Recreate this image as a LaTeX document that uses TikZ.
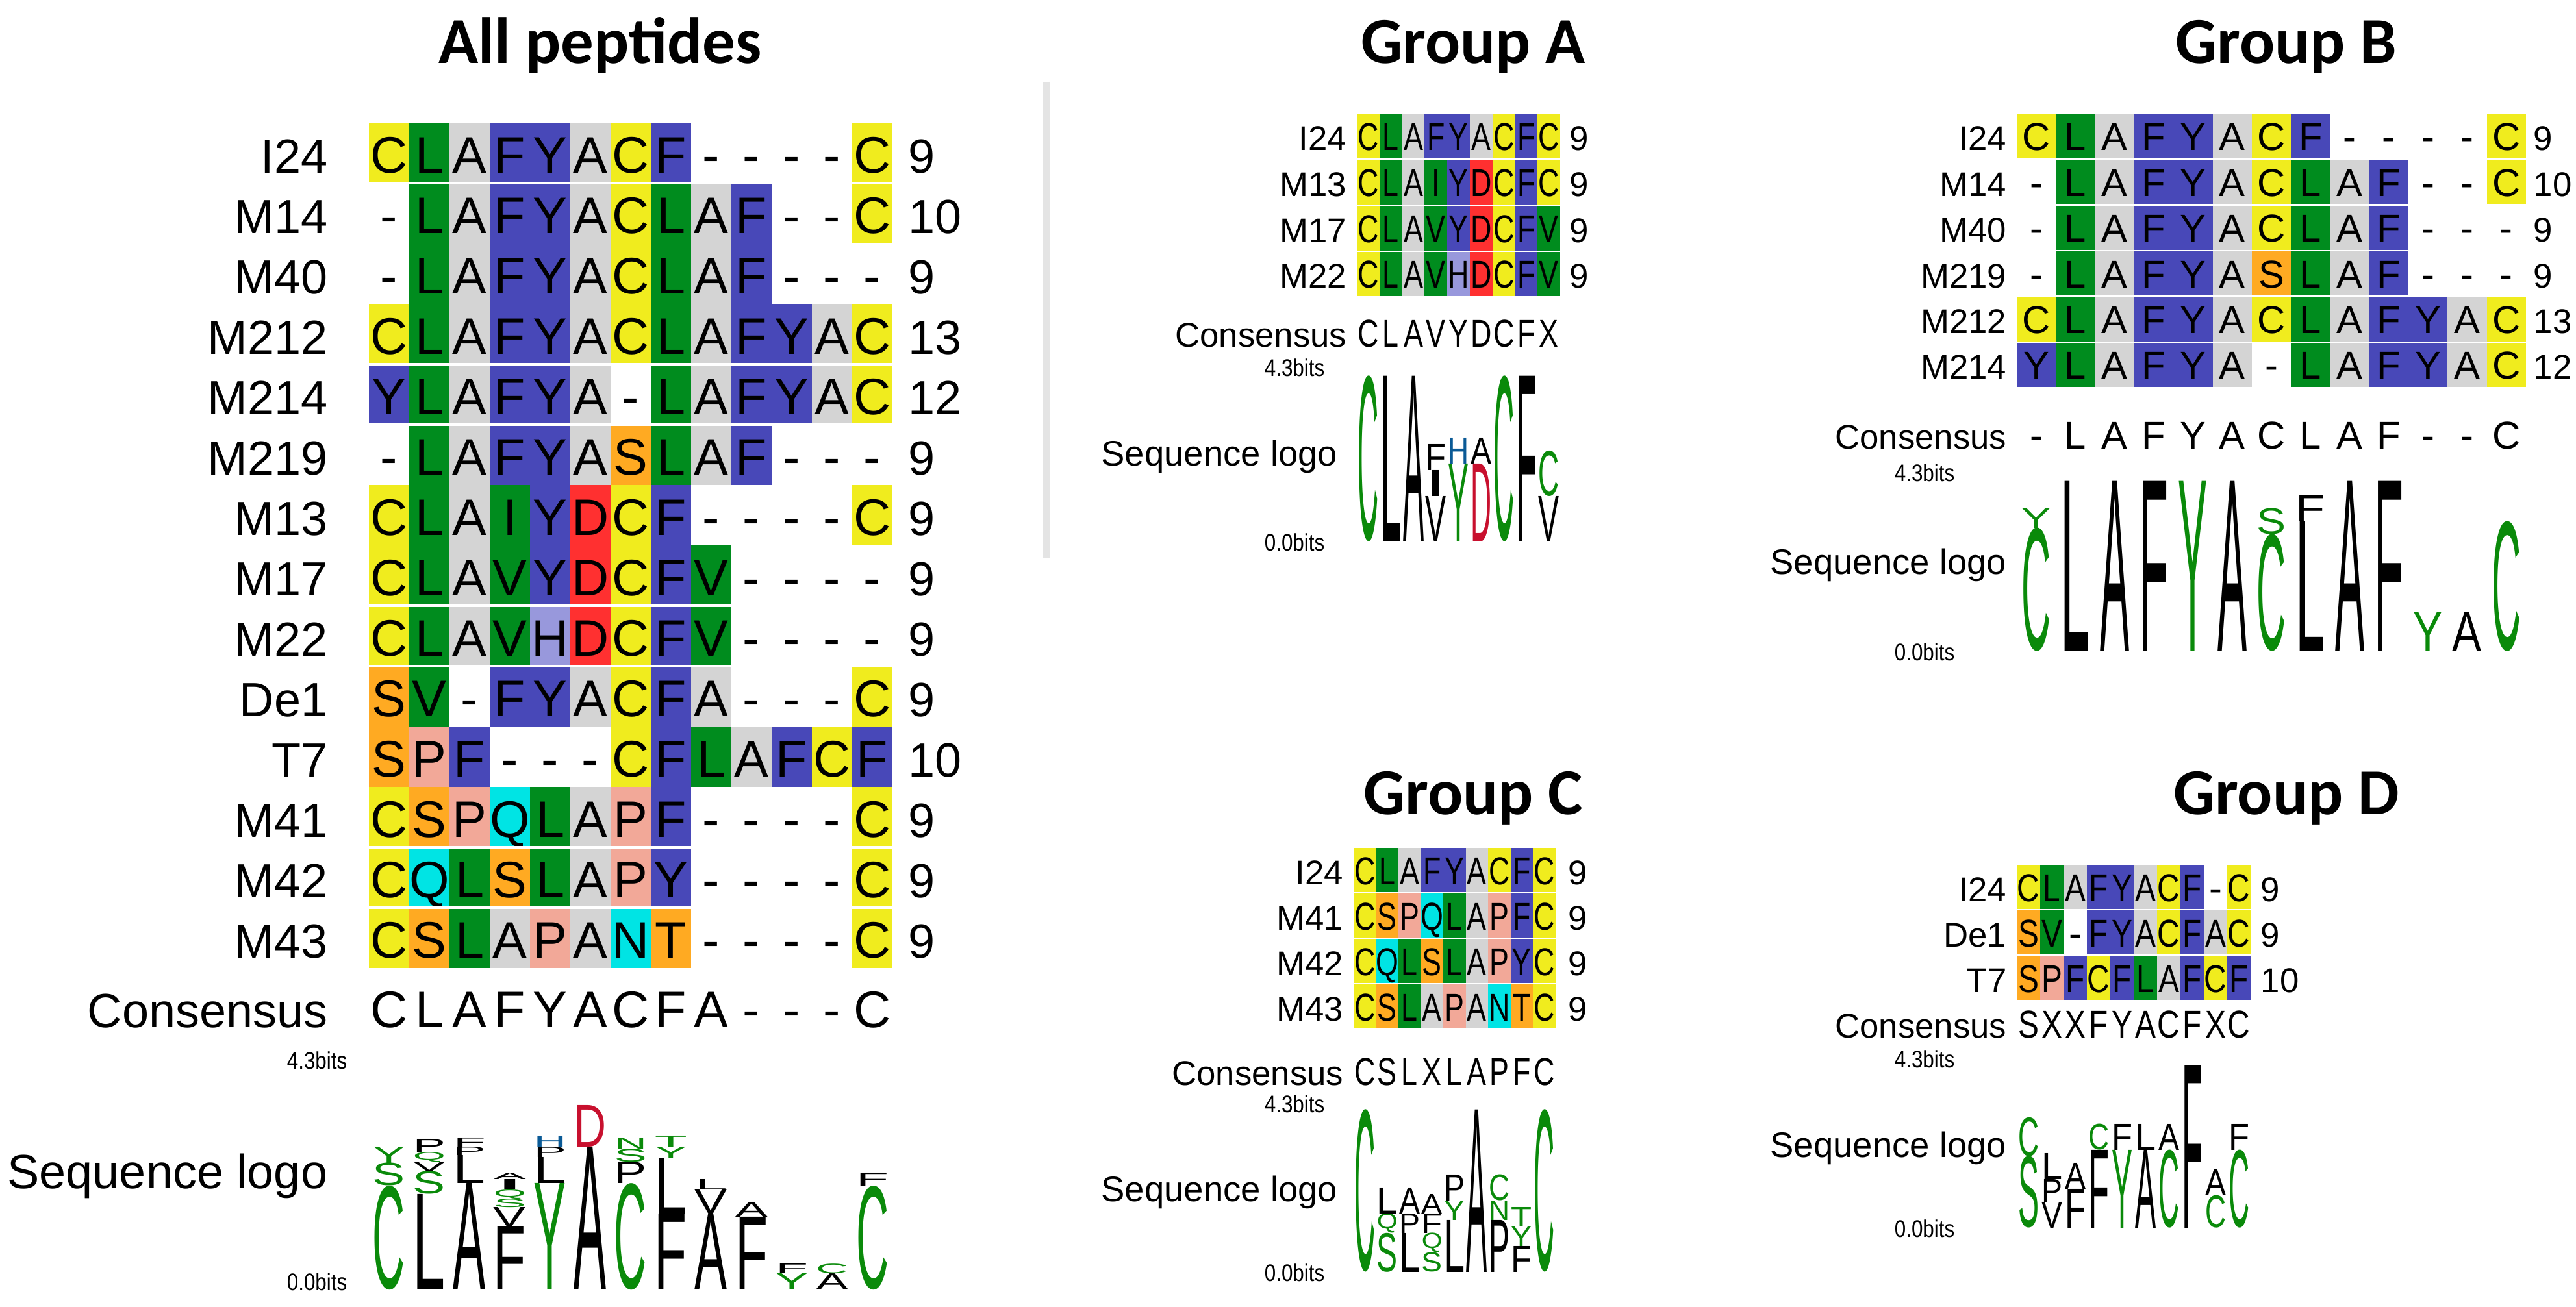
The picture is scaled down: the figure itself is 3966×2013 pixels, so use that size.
\documentclass[tikz,border=0pt]{standalone}
\usepackage{fontspec}
\usepackage{graphicx}
\setmainfont{Liberation Sans}
\newfontfamily\titlefont{Carlito}
\newdimen\pxd \pxd=0.28453pt
\definecolor{rC}{HTML}{F0EC1E}
\definecolor{rL}{HTML}{008C1E}
\definecolor{rI}{HTML}{008C1E}
\definecolor{rV}{HTML}{008C1E}
\definecolor{rA}{HTML}{D4D4D4}
\definecolor{rF}{HTML}{4848B8}
\definecolor{rY}{HTML}{4848B8}
\definecolor{rH}{HTML}{9898DC}
\definecolor{rD}{HTML}{FF3030}
\definecolor{rS}{HTML}{FFAA22}
\definecolor{rT}{HTML}{FFAA22}
\definecolor{rP}{HTML}{F2A898}
\definecolor{rQ}{HTML}{00E4E4}
\definecolor{rN}{HTML}{00E4E4}
\definecolor{lgg}{HTML}{0A8A0A}
\definecolor{lgk}{HTML}{000000}
\definecolor{lgr}{HTML}{C8102E}
\definecolor{lgb}{HTML}{0A5A96}
\definecolor{sepline}{HTML}{E4E4E4}
\def\gapchar{g}
\newcommand\setpanel[9]{\def\Px{#1}\def\Pcw{#2}\def\Prh{#3}\def\Plx{#4}\def\Pnx{#5}\def\Pcf{#6}\def\Plf{#7}\def\Pbo{#8}\def\Psx{#9}}
\newcommand\arow[4]{%
  \pgfmathsetmacro\yl{#1+\Pbo}%
  \node[anchor=base east, inner sep=0pt] at (\Plx,\yl) {\Plf #2};
  \foreach \c [count=\k from 0] in {#3} {%
    \pgfmathsetmacro\xa{\Px+\k*\Pcw}%
    \pgfmathsetmacro\xm{\xa+0.5*\Pcw}%
    \pgfmathsetmacro\xb{\xa+\Pcw}%
    \pgfmathsetmacro\ya{#1-0.5*\Prh}%
    \pgfmathsetmacro\yb{#1+0.5*\Prh}%
    \edef\cc{\c}%
    \ifx\cc\gapchar
      \node[anchor=base, inner sep=0pt] at (\xm,\yl) {\Pcf -};%
    \else
      \edef\fc{r\c}%
      \fill[fill=\fc] (\xa,\ya) rectangle (\xb,\yb);%
      \node[anchor=base, inner sep=0pt] at (\xm,\yl) {\scalebox{\Psx}[1]{\Pcf\c}};%
    \fi
  }%
  \node[anchor=base west, inner sep=0pt] at (\Pnx,\yl) {\Plf #4};%
}
\newcommand\crow[3]{%
  \pgfmathsetmacro\yl{#1+\Pbo}%
  \node[anchor=base east, inner sep=0pt] at (\Plx,\yl) {\Plf #2};
  \foreach \c [count=\k from 0] in {#3} {%
    \pgfmathsetmacro\xm{\Px+(\k+0.5)*\Pcw}%
    \edef\cc{\c}%
    \ifx\cc\gapchar\def\ct{-}\else\edef\ct{\c}\fi
    \node[anchor=base, inner sep=0pt] at (\xm,\yl) {\scalebox{\Psx}[1]{\Pcf\ct}};%
  }%
}
\newcommand\wsep[3]{\fill[white] (#2,#1-2) rectangle (#3,#1+2);}
\newcommand\logocol[3]{%
  \pgfmathsetmacro\lx{\Px+(#1+0.5)*\Pcw}%
  \xdef\curY{\Pbase}%
  \foreach \L/\H/\C in {#3} {%
    \node[inner sep=0pt, anchor=south, text=\C] at (\lx,\curY) {\resizebox*{#2\pxd}{\H\pxd}{\L}};%
    \pgfmathsetmacro\tmpY{\curY-\H}\xdef\curY{\tmpY}%
  }%
}
\newcommand\bits[3]{% x right, y center (4.3), y center (0.0)
  \node[anchor=east, inner sep=0pt] at (#1,#2) {\scalebox{0.85}[1]{\fontsize{10.5}{12}\selectfont 4.3bits}};
  \node[anchor=east, inner sep=0pt] at (#1,#3) {\scalebox{0.85}[1]{\fontsize{10.5}{12}\selectfont 0.0bits}};
}
\tikzset{ttl/.style={anchor=base, inner sep=0pt, font=\titlefont\bfseries\fontsize{28.7}{32}\selectfont}}
\begin{document}
\begin{tikzpicture}[x=0.01cm,y=-0.01cm]
\useasboundingbox (0,0) rectangle (3966,2013);
\fill[white] (0,0) rectangle (3966,2013);
% titles
\node[ttl] (tAll) at (924,98) {All peptides};
\node[ttl] (tA) at (2268,98) {Group A};
\node[ttl] (tB) at (3520,98) {Group B};
\node[ttl] (tC) at (2268,1254) {Group C};
\node[ttl] (tD) at (3520,1254) {Group D};
\draw[sepline, line width=3] (1611,126) -- (1611,860);
% ================= All peptides =================
\setpanel{568}{62}{93}{505}{1398}{\fontsize{22.5}{26}\selectfont}{\fontsize{21}{25}\selectfont}{31}{1}
\arow{235.5}{I24}{C,L,A,F,Y,A,C,F,g,g,g,g,C}{9}
\arow{328.5}{M14}{g,L,A,F,Y,A,C,L,A,F,g,g,C}{10}
\arow{421.5}{M40}{g,L,A,F,Y,A,C,L,A,F,g,g,g}{9}
\arow{514.5}{M212}{C,L,A,F,Y,A,C,L,A,F,Y,A,C}{13}
\arow{607.5}{M214}{Y,L,A,F,Y,A,g,L,A,F,Y,A,C}{12}
\arow{700.5}{M219}{g,L,A,F,Y,A,S,L,A,F,g,g,g}{9}
\arow{793.5}{M13}{C,L,A,I,Y,D,C,F,g,g,g,g,C}{9}
\arow{886.5}{M17}{C,L,A,V,Y,D,C,F,V,g,g,g,g}{9}
\arow{979.5}{M22}{C,L,A,V,H,D,C,F,V,g,g,g,g}{9}
\arow{1072.5}{De1}{S,V,g,F,Y,A,C,F,A,g,g,g,C}{9}
\arow{1165.5}{T7}{S,P,F,g,g,g,C,F,L,A,F,C,F}{10}
\arow{1258.5}{M41}{C,S,P,Q,L,A,P,F,g,g,g,g,C}{9}
\arow{1351.5}{M42}{C,Q,L,S,L,A,P,Y,g,g,g,g,C}{9}
\arow{1444.5}{M43}{C,S,L,A,P,A,N,T,g,g,g,g,C}{9}
\foreach \yy in {282,561,654,933,1026,1305,1398} {\wsep{\yy}{560}{1380}}
\crow{1551}{Consensus}{C,L,A,F,Y,A,C,F,A,g,g,g,C}
\bits{535}{1633}{1974}
\node[anchor=base east, inner sep=0pt] at (505,1830) {\fontsize{21}{25}\selectfont Sequence logo};
\def\Pbase{1987}
\logocol{0}{50}{C/160/lgg, S/35/lgg, Y/25/lgg}
\logocol{1}{50}{L/147/lgk, S/35/lgg, V/15/lgk, Q/15/lgg, P/20/lgk}
\logocol{2}{50}{A/164/lgk, L/43/lgk, P/13/lgk, F/14/lgk}
\logocol{3}{50}{F/97/lgk, V/30/lgk, S/13/lgg, Q/14/lgg, I/16/lgk, A/10/lgk}
\logocol{4}{50}{Y/164/lgg, L/40/lgk, P/16/lgk, H/17/lgb}
\logocol{5}{50}{A/220/lgk, D/64/lgr}
\logocol{6}{50}{C/164/lgg, P/33/lgk, S/20/lgg, N/17/lgg}
\logocol{7}{50}{F/117/lgk, L/85/lgk, Y/18/lgg, T/17/lgg}
\logocol{8}{50}{A/117/lgk, V/37/lgk, L/16/lgk}
\logocol{9}{50}{F/112/lgk, A/23/lgk}
\logocol{10}{50}{Y/25/lgg, F/15/lgk}
\logocol{11}{50}{A/25/lgk, C/15/lgg}
\logocol{12}{50}{C/160/lgg, F/20/lgk}
% ================= Group A =================
\setpanel{2089}{34.8}{68}{2074}{2416}{\fontsize{17}{20}\selectfont}{\fontsize{15}{18}\selectfont}{22}{0.75}
\arow{210}{I24}{C,L,A,F,Y,A,C,F,C}{9}
\arow{281}{M13}{C,L,A,I,Y,D,C,F,C}{9}
\arow{352}{M17}{C,L,A,V,Y,D,C,F,V}{9}
\arow{422}{M22}{C,L,A,V,H,D,C,F,V}{9}
\crow{513}{Consensus}{C,L,A,V,Y,D,C,F,X}
\bits{2040}{566}{835}
\node[anchor=base east, inner sep=0pt] at (2060,718) {\fontsize{15.5}{18}\selectfont Sequence logo};
\def\Pbase{835}
\logocol{0}{32}{C/255/lgg}
\logocol{1}{32}{L/255/lgk}
\logocol{2}{32}{A/255/lgk}
\logocol{3}{32}{V/70/lgk, I/40/lgk, F/40/lgk}
\logocol{4}{32}{Y/120/lgg, H/40/lgb}
\logocol{5}{32}{D/120/lgr, A/40/lgk}
\logocol{6}{32}{C/255/lgg}
\logocol{7}{32}{F/255/lgk}
\logocol{8}{32}{V/70/lgk, C/70/lgg}
% ================= Group B =================
\setpanel{3105}{60.3}{68}{3090}{3900}{\fontsize{17}{20}\selectfont}{\fontsize{15}{18}\selectfont}{22}{1}
\arow{210}{I24}{C,L,A,F,Y,A,C,F,g,g,g,g,C}{9}
\arow{280.4}{M14}{g,L,A,F,Y,A,C,L,A,F,g,g,C}{10}
\arow{350.8}{M40}{g,L,A,F,Y,A,C,L,A,F,g,g,g}{9}
\arow{421.2}{M219}{g,L,A,F,Y,A,S,L,A,F,g,g,g}{9}
\arow{491.6}{M212}{C,L,A,F,Y,A,C,L,A,F,Y,A,C}{13}
\arow{562}{M214}{Y,L,A,F,Y,A,g,L,A,F,Y,A,C}{12}
\crow{670}{Consensus}{g,L,A,F,Y,A,C,L,A,F,g,g,C}
\bits{3010}{728}{1004}
\node[anchor=base east, inner sep=0pt] at (3090,885) {\fontsize{15.5}{18}\selectfont Sequence logo};
\def\Pbase{1004}
\logocol{0}{45}{C/190/lgg, Y/30/lgg}
\logocol{1}{45}{L/262/lgk}
\logocol{2}{45}{A/262/lgk}
\logocol{3}{45}{F/262/lgk}
\logocol{4}{45}{Y/262/lgg}
\logocol{5}{45}{A/262/lgk}
\logocol{6}{45}{C/180/lgg, S/40/lgg}
\logocol{7}{45}{L/200/lgk, F/40/lgk}
\logocol{8}{45}{A/262/lgk}
\logocol{9}{45}{F/262/lgk}
\logocol{10}{45}{Y/60/lgg}
\logocol{11}{45}{A/60/lgk}
\logocol{12}{45}{C/200/lgg}
% ================= Group C =================
\setpanel{2084}{34.5}{68}{2069}{2414}{\fontsize{17}{20}\selectfont}{\fontsize{15}{18}\selectfont}{22}{0.75}
\arow{1340}{I24}{C,L,A,F,Y,A,C,F,C}{9}
\arow{1410}{M41}{C,S,P,Q,L,A,P,F,C}{9}
\arow{1480}{M42}{C,Q,L,S,L,A,P,Y,C}{9}
\arow{1550}{M43}{C,S,L,A,P,A,N,T,C}{9}
\crow{1649}{Consensus}{C,S,L,X,L,A,P,F,C}
\bits{2040}{1700}{1960}
\node[anchor=base east, inner sep=0pt] at (2060,1850) {\fontsize{15.5}{18}\selectfont Sequence logo};
\def\Pbase{1960}
\logocol{0}{32}{C/250/lgg}
\logocol{1}{32}{S/60/lgg, Q/30/lgg, L/40/lgk}
\logocol{2}{32}{L/60/lgk, P/30/lgk, A/40/lgk}
\logocol{3}{32}{S/30/lgg, Q/30/lgg, F/30/lgk, A/30/lgk}
\logocol{4}{32}{L/80/lgk, Y/30/lgg, P/40/lgk}
\logocol{5}{32}{A/250/lgk}
\logocol{6}{32}{P/80/lgk, N/30/lgg, C/40/lgg}
\logocol{7}{32}{F/40/lgk, Y/30/lgg, T/30/lgg}
\logocol{8}{32}{C/250/lgg}
% ================= Group D =================
\setpanel{3105}{36}{68}{3090}{3480}{\fontsize{17}{20}\selectfont}{\fontsize{15}{18}\selectfont}{22}{0.8}
\arow{1366}{I24}{C,L,A,F,Y,A,C,F,g,C}{9}
\arow{1436}{De1}{S,V,g,F,Y,A,C,F,A,C}{9}
\arow{1506}{T7}{S,P,F,C,F,L,A,F,C,F}{10}
\crow{1576}{Consensus}{S,X,X,F,Y,A,C,F,X,C}
\bits{3010}{1631}{1892}
\node[anchor=base east, inner sep=0pt] at (3090,1782) {\fontsize{15.5}{18}\selectfont Sequence logo};
\def\Pbase{1892}
\logocol{0}{32}{S/110/lgg, C/60/lgg}
\logocol{1}{32}{V/40/lgk, P/35/lgk, L/40/lgk}
\logocol{2}{32}{F/60/lgk, A/40/lgk}
\logocol{3}{32}{F/120/lgk, C/40/lgg}
\logocol{4}{32}{Y/120/lgg, F/40/lgk}
\logocol{5}{32}{A/120/lgk, L/40/lgk}
\logocol{6}{32}{C/120/lgg, A/40/lgk}
\logocol{7}{32}{F/250/lgk}
\logocol{8}{32}{C/50/lgg, A/40/lgk}
\logocol{9}{32}{C/120/lgg, F/40/lgk}
\end{tikzpicture}
\end{document}
